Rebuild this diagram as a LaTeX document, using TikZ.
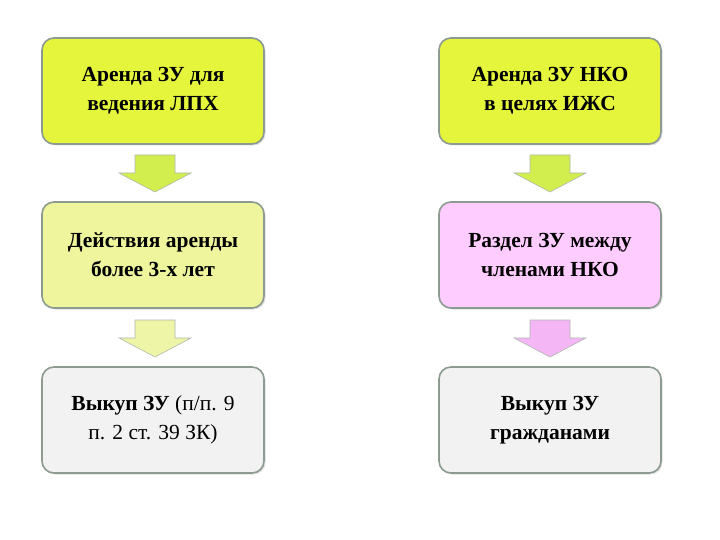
\documentclass[tikz,border=0pt]{standalone}
\usepackage{fontspec}
\setmainfont{Liberation Serif}
\usetikzlibrary{shadows}
\definecolor{ylg}{HTML}{E4F53C}
\definecolor{lyl}{HTML}{EEF59C}
\definecolor{pnk}{HTML}{FFCCFF}
\definecolor{gry}{HTML}{F2F2F2}
\definecolor{bord}{HTML}{8C9A90}
\definecolor{agreen}{HTML}{D2EE4E}
\definecolor{ayel}{HTML}{EEF5A6}
\definecolor{apink}{HTML}{F4B6F4}
\tikzset{
 box/.style={draw=bord,line width=1.6pt,rounded corners=12pt,minimum width=222pt,minimum height=106pt,align=center,font=\fontsize{21.5}{29}\selectfont\bfseries,drop shadow={shadow xshift=1.5pt,shadow yshift=-1.5pt,opacity=0.25}},
 barrow/.style={draw=bord!70,line width=0.6pt}
}
\newcommand{\darrow}[3]{% x, top y, colour
 \draw[barrow,fill=#3] (#1-20,#2) -- (#1+20,#2) -- (#1+20,#2+18) -- (#1+36,#2+18) -- (#1,#2+37) -- (#1-36,#2+18) -- (#1-20,#2+18) -- cycle;}
\begin{document}
\begin{tikzpicture}[x=1pt,y=-1pt]
\useasboundingbox[fill=white] (0,0) rectangle (720,540);
\node[box,fill=ylg] (a1) at (153,91) {Аренда ЗУ для\\ведения ЛПХ};
\node[box,fill=ylg] (b1) at (550,91) {Аренда ЗУ НКО\\в целях ИЖС};
\node[box,fill=lyl] (a2) at (153,255) {Действия аренды\\более 3-х лет};
\node[box,fill=pnk] (b2) at (550,255) {Раздел ЗУ между\\членами НКО};
\node[box,fill=gry] (a3) at (153,420) {Выкуп ЗУ \mdseries(п/п. 9\\\mdseries п. 2 ст. 39 ЗК)};
\node[box,fill=gry] (b3) at (550,420) {Выкуп ЗУ\\гражданами};
\darrow{155}{155}{agreen}
\darrow{550}{155}{agreen}
\darrow{155}{320}{ayel}
\darrow{550}{320}{apink}
\end{tikzpicture}
\end{document}
